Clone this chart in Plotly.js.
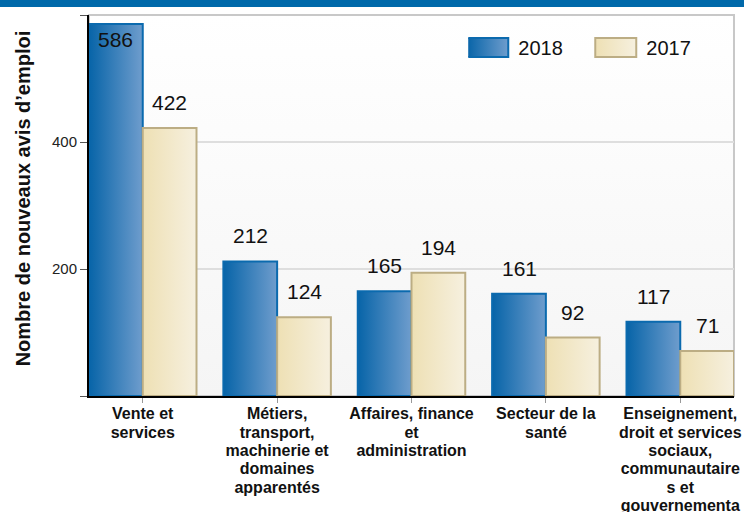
<!DOCTYPE html>
<html>
<head>
<meta charset="utf-8">
<script src="https://cdn.plot.ly/plotly-3.0.1.min.js"></script>
<style>
  html, body { margin: 0; padding: 0; background: #ffffff; }
  #chart { width: 744px; height: 512px; }
</style>
</head>
<body>
<div id="chart"></div>
<script>
// ---- Data ----
const categories = [
  "Vente et<br>services",
  "Métiers,<br>transport,<br>machinerie et<br>domaines<br>apparentés",
  "Affaires, finance<br>et<br>administration",
  "Secteur de la<br>santé",
  "Enseignement,<br>droit et services<br>sociaux,<br>communautaire<br>s et<br>gouvernementa<br>ux"
];
const seriesNames = ["2018", "2017"];
const values2018 = [586, 212, 165, 161, 117];
const values2017 = [422, 124, 194, 92, 71];
const yTickVals = [0, 200, 400, 600];
const yTickText = ["", "200", "400", ""];
const yTitle = "Nombre de nouveaux avis d’emploi";

// ---- Styles ----
const FONT = "Arial, 'Liberation Sans', sans-serif";
const blueEdge = "#0b6aae";
const tanEdge = "#bcad84";

const idx = categories.map((c, i) => i);

const data = [
  {
    type: "bar", name: seriesNames[0], x: idx, y: values2018,
    marker: { color: "#3b82bd", line: { color: blueEdge, width: 2 } },
    hoverinfo: "none"
  },
  {
    type: "bar", name: seriesNames[1], x: idx, y: values2017,
    marker: { color: "#f2e9cc", line: { color: tanEdge, width: 2 } },
    hoverinfo: "none"
  }
];

// value labels built from the data
const annotations = [];
const groupOffset = 0.2;
[values2018, values2017].forEach((vals, s) => {
  vals.forEach((v, i) => {
    const inside = v > 560;
    annotations.push({
      x: i + (s === 0 ? -groupOffset : groupOffset), y: v, xref: "x", yref: "y",
      text: String(v), showarrow: false,
      yanchor: inside ? "top" : "bottom", yshift: inside ? -2 : 12,
      font: { family: FONT, size: 21, color: "#111" }
    });
  });
});

const layout = {
  width: 744, height: 512,
  margin: { l: 89, r: 10, t: 15, b: 116 },
  paper_bgcolor: "#ffffff",
  plot_bgcolor: "#fcfcfc",
  font: { family: FONT, color: "#111" },
  barmode: "group",
  bargap: 0.2,
  bargroupgap: 0,
  showlegend: true,
  legend: {
    orientation: "h", x: 0.588, xanchor: "left", y: 0.915, yanchor: "middle",
    font: { family: FONT, size: 20, color: "#111" },
    bgcolor: "rgba(0,0,0,0)", itemwidth: 40, entrywidth: 73, entrywidthmode: "pixels",
    itemclick: false
  },
  xaxis: {
    type: "linear",
    range: [-0.4, 4.4],
    tickmode: "array", tickvals: idx, ticktext: categories,
    ticks: "outside", ticklen: 5, tickcolor: "#999", tickwidth: 1,
    ticklabelstandoff: -3,
    tickfont: { family: FONT, size: 16, color: "#111", weight: "bold" },
    showline: true, linecolor: "#000", linewidth: 2,
    showgrid: false, zeroline: false, fixedrange: true
  },
  yaxis: {
    range: [0, 600],
    tickmode: "array", tickvals: yTickVals, ticktext: yTickText,
    ticks: "outside", ticklen: 7, tickcolor: "#555", tickwidth: 1,
    tickfont: { family: FONT, size: 15, color: "#222" },
    showline: true, linecolor: "#000", linewidth: 2,
    showgrid: true, gridcolor: "#dedede", gridwidth: 2,
    zeroline: false, fixedrange: true,
    title: { text: yTitle, font: { family: FONT, size: 20, color: "#111", weight: "bold" }, standoff: 16 }
  },
  shapes: [
    { type: "rect", xref: "paper", yref: "paper", x0: 0, x1: 1, y0: 0, y1: 1,
      line: { color: "#c8c8c8", width: 2 }, fillcolor: "rgba(0,0,0,0)", layer: "below" },
    { type: "rect", xref: "paper", yref: "paper", x0: -0.2, x1: 1.1, y0: (396 - 7) / 381, y1: 1.1,
      line: { width: 0 }, fillcolor: "#0069aa", layer: "above" }
  ],
  annotations: annotations
};

Plotly.newPlot("chart", data, layout, { displayModeBar: false, staticPlot: true }).then(gd => {
  const svg = gd.querySelector(".main-svg");
  const NS = "http://www.w3.org/2000/svg";
  let defs = svg.querySelector("defs");
  if (!defs) { defs = document.createElementNS(NS, "defs"); svg.insertBefore(defs, svg.firstChild); }
  const grads = [
    { id: "gBlue", stops: [["0%", "#0764a8"], ["100%", "#6f9dcd"]] },
    { id: "gTan", stops: [["0%", "#eee0b4"], ["100%", "#f6f0df"]] },
    { id: "gBg", stops: [["0%", "#ffffff"], ["100%", "#f5f5f5"]], vertical: true }
  ];
  grads.forEach(g => {
    const lg = document.createElementNS(NS, "linearGradient");
    lg.setAttribute("id", g.id);
    lg.setAttribute("x1", "0"); lg.setAttribute("y1", "0");
    lg.setAttribute("x2", g.vertical ? "0" : "1"); lg.setAttribute("y2", g.vertical ? "1" : "0");
    g.stops.forEach(s => {
      const st = document.createElementNS(NS, "stop");
      st.setAttribute("offset", s[0]); st.setAttribute("stop-color", s[1]);
      lg.appendChild(st);
    });
    defs.appendChild(lg);
  });
  const fills = ["url(#gBlue)", "url(#gTan)"];
  gd.querySelectorAll(".barlayer .trace").forEach((tr, i) => {
    tr.querySelectorAll("path").forEach(p => { p.style.fill = fills[i]; });
  });
  const bg = gd.querySelector(".bglayer rect.bg");
  if (bg) bg.style.fill = "url(#gBg)";
  gd.querySelectorAll(".legend .traces").forEach((t, i) => {
    const p = t.querySelector(".legendpoints path");
    if (p) {
      p.setAttribute("d", "M-26,-9.5h41v19h-41z");
      p.style.fill = fills[i];
    }
  });
  // tighter line spacing for the category labels
  gd.querySelectorAll(".xtick text tspan.line").forEach(t => {
    const dy = t.getAttribute("dy");
    if (dy && /em$/.test(dy)) t.setAttribute("dy", (parseFloat(dy) * 1.15 / 1.3) + "em");
  });
  // nudge the y title slightly upward, as in the reference
  const yt = gd.querySelector(".g-ytitle text");
  if (yt) yt.setAttribute("transform", "translate(0,-7) " + (yt.getAttribute("transform") || ""));
});
</script>
</body>
</html>
